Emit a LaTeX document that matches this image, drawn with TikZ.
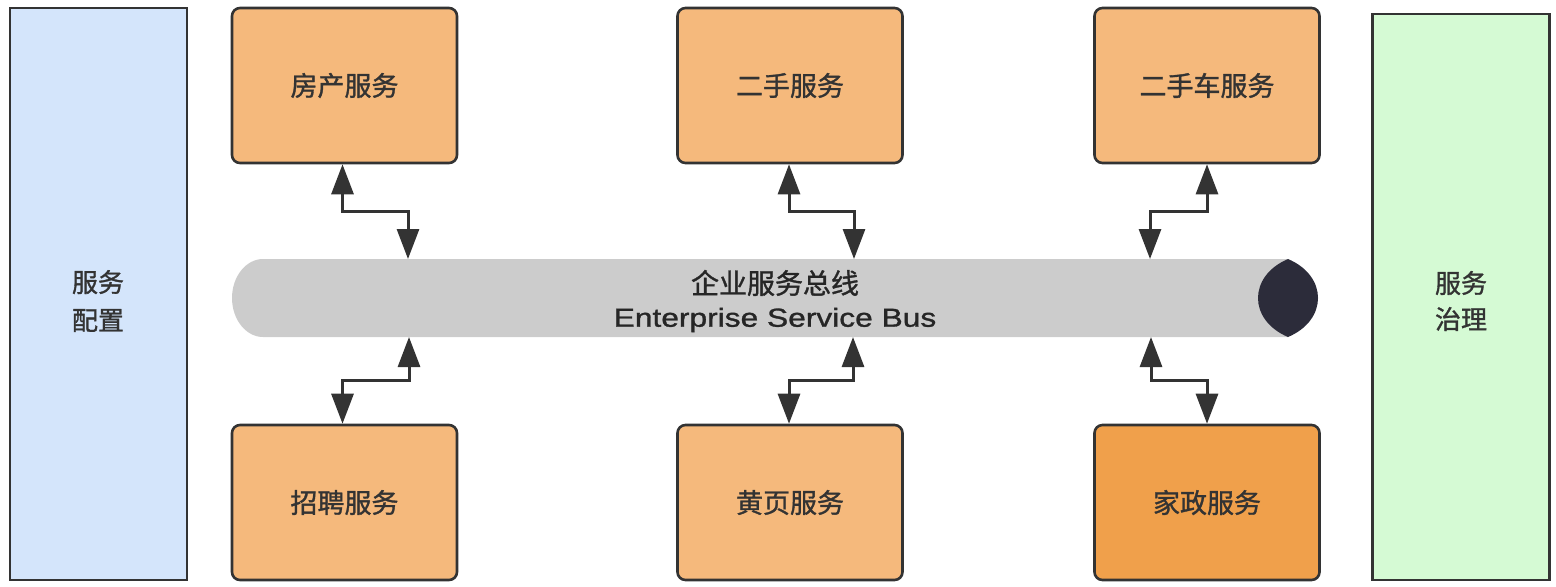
\documentclass[tikz,border=0pt]{standalone}
\usepackage{fontspec}
\setmainfont{Liberation Sans}
\newfontfamily\cjk{Noto Sans CJK SC}[FakeBold=1.2]
\newfontfamily\busfont{Liberation Sans}[FakeStretch=1.22, FakeBold=1.2]
\usepackage{xcolor}
\usetikzlibrary{arrows.meta,calc}

\definecolor{cfgblue}{HTML}{D4E5FB}
\definecolor{govgreen}{HTML}{D5FAD4}
\definecolor{svcorange}{HTML}{F5B97C}
\definecolor{svcdark}{HTML}{F0A04B}
\definecolor{busgray}{HTML}{CCCCCC}
\definecolor{buscap}{HTML}{2C2C3A}
\definecolor{edge}{HTML}{333333}

\begin{document}
\begin{tikzpicture}[x=0.5pt, y=-0.5pt,
    svc/.style={draw=edge, line width=1.3pt, fill=svcorange, rounded corners=4pt,
        minimum width=112.5pt, minimum height=77.5pt, font=\cjk\fontsize{13.5}{16}\selectfont, text=edge},
    side/.style={draw=edge, line width=1.3pt, minimum width=88.5pt,
        font=\cjk\fontsize{13}{19}\selectfont, align=center, text=edge},
    biarrow/.style={draw=edge, line width=1.5pt, {Triangle[length=15pt,width=11pt]}-{Triangle[length=15pt,width=11pt]}}]
    \useasboundingbox (0,0) rectangle (1556,586);

    % --- Side panels ---
    \node[side, fill=cfgblue, minimum height=286pt] (cfg) at (98.5,294) {};
    \node[side, fill=govgreen, minimum height=283pt] (gov) at (1461,297) {};
    \node[font=\cjk\fontsize{13}{19}\selectfont, align=center, text=edge] (cfglabel) at (98,301) {服务\\配置};
    \node[font=\cjk\fontsize{13}{18}\selectfont, align=center, text=edge] (govlabel) at (1461,301) {服务\\治理};

    % --- Service boxes, top row ---
    \node[svc] (house) at (344.5,85.5) {房产服务};
    \node[svc] (used) at (790,85.5) {二手服务};
    \node[svc] (car) at (1207,85.5) {二手车服务};

    % --- Service boxes, bottom row ---
    \node[svc] (job) at (344.5,502.5) {招聘服务};
    \node[svc] (yellow) at (790,502.5) {黄页服务};
    \node[svc, fill=svcdark] (home) at (1207,502.5) {家政服务};

    % --- Bus body (horizontal cylinder) ---
    \fill[busgray] (263,259) -- (1288,259) -- (1288,337) -- (263,337)
        .. controls (246,337) and (232,319.5) .. (232,298)
        .. controls (232,276.5) and (246,259) .. (263,259) -- cycle;
    % dark end cap
    \fill[buscap] (1288,259) .. controls (1248,276) and (1248,320) .. (1288,337)
        .. controls (1328,320) and (1328,276) .. (1288,259) -- cycle;
    \node[align=center, text=black!85, inner sep=0pt] (bus) at (775,301)
        {{\cjk\fontsize{14}{17.5}\selectfont 企业服务总线}\\[4.5pt]{\busfont\fontsize{13}{17.5}\selectfont Enterprise Service Bus}};

    % --- Docking points on the bus ---
    \coordinate (busT1) at (408,259);
    \coordinate (busT2) at (854,259);
    \coordinate (busT3) at (1150,259);
    \coordinate (busB1) at (409,337);
    \coordinate (busB2) at (853,337);
    \coordinate (busB3) at (1151,337);

    % --- Connectors ---
    \draw[biarrow] ([xshift=-1pt]house.south) |- ($([xshift=-1pt]house.south)!0.5!(busT1)$) -| (busT1);
    \draw[biarrow] ([xshift=-0.5pt]used.south) |- ($([xshift=-0.5pt]used.south)!0.5!(busT2)$) -| (busT2);
    \draw[biarrow] (car.south) |- ($(car.south)!0.5!(busT3)$) -| (busT3);
    \draw[biarrow] (busB1) |- ($(busB1)!0.5!([xshift=-1pt]job.north)$) -| ([xshift=-1pt]job.north);
    \draw[biarrow] (busB2) |- ($(busB2)!0.5!([xshift=-0.5pt]yellow.north)$) -| ([xshift=-0.5pt]yellow.north);
    \draw[biarrow] (busB3) |- ($(busB3)!0.5!(home.north)$) -| (home.north);

\end{tikzpicture}
\end{document}
